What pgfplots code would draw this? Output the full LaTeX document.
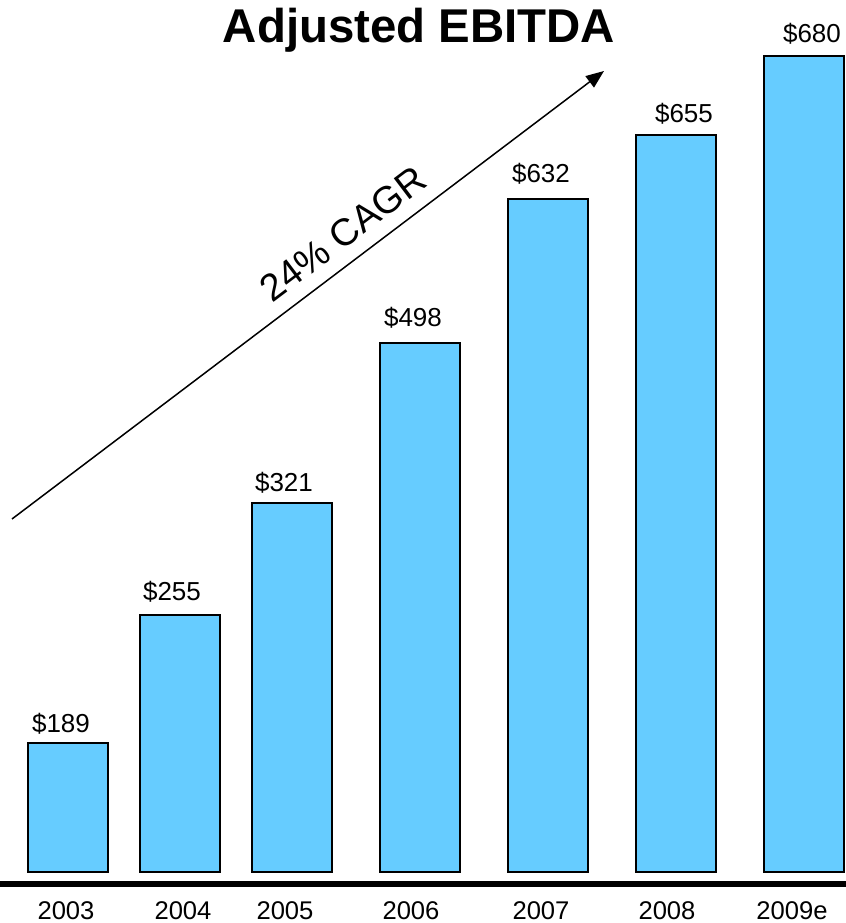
\documentclass[border=0pt]{standalone}
\usepackage{pgfplots}
\pgfplotsset{compat=1.18}
\usepackage{pgfplotstable}
\usepackage{fontspec}
\setmainfont{Liberation Sans}
\usetikzlibrary{arrows.meta}
\definecolor{barblue}{RGB}{102,204,255}

% x: bar centre, h: bar height as drawn, lx/ly: label position, v: value ($M)
\pgfplotstableread{
x   h   lx  ly  v
68  129 61  140 189
180 257 172 272 255
292 369 284 380 321
420 529 413 545 498
548 673 541 689 632
676 737 684 749 655
804 816 812 829 680
}\ebitda

\begin{document}
\begin{tikzpicture}
\begin{axis}[
  at={(0,0)}, anchor=south west,
  scale only axis, width=423pt, height=442pt,
  xmin=0, xmax=846, ymin=-12, ymax=872,
  axis y line=none, axis x line=bottom,
  x axis line style={-, line width=3pt, black},
  xtick={66,183,285,411,541,667,792},
  xticklabels={2003,2004,2005,2006,2007,2008,2009e},
  major tick length=0pt,
  xticklabel style={anchor=base, inner sep=0pt, yshift=-17.5pt, font=\fontsize{12.8}{14}\selectfont},
  clip=false,
]
\addplot[ybar, bar width=80, fill=barblue, draw=black, line width=0.75pt] table[x=x, y=h]{\ebitda};
\addplot[draw=none, mark=none, nodes near coords={\$\pgfplotspointmeta}, point meta=explicit symbolic,
  every node near coord/.append style={anchor=base, inner sep=0pt, font=\fontsize{13}{15}\selectfont}]
  table[x=lx, y=ly, meta=v]{\ebitda};
\draw[line width=0.75pt, -{Triangle[length=9pt,width=7pt]}] (axis cs:12,353) -- (axis cs:604,801);
\node[rotate=37.1, font=\fontsize{19}{22}\selectfont] at (axis cs:343,638) {24\% CAGR};
\node[anchor=base, font=\bfseries\fontsize{23.7}{27}\selectfont] at (axis cs:419,829) {Adjusted EBITDA};
\end{axis}
\pgfresetboundingbox
\path (0,-19.5pt) rectangle (423pt,442pt);
\end{tikzpicture}
\end{document}
